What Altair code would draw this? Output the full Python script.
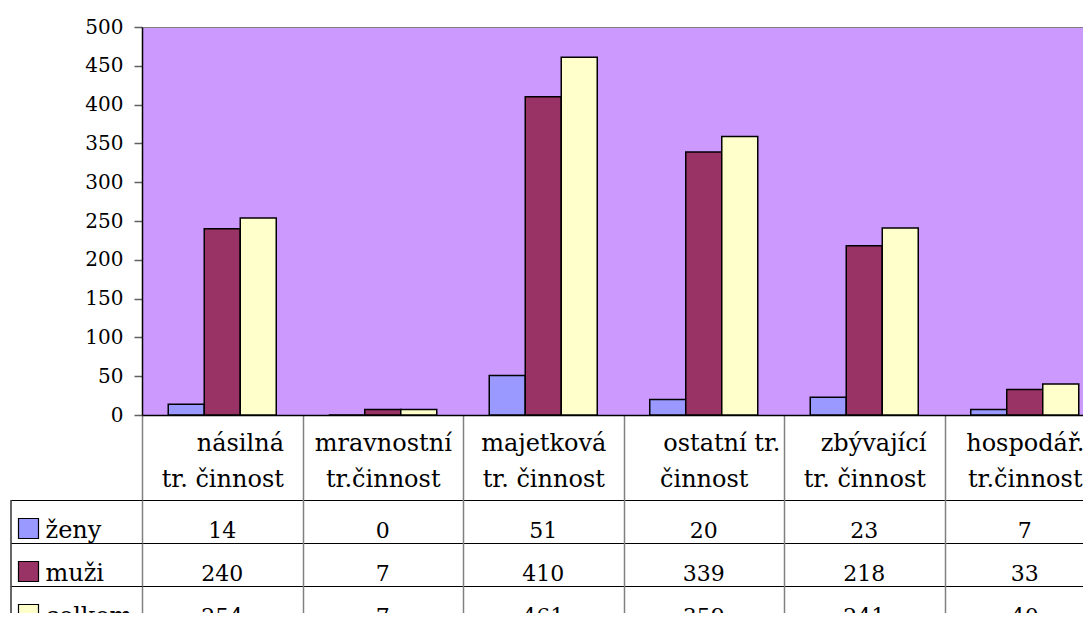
import altair as alt
import pandas as pd

# ---- data ----
# (U+2800 blank cells reproduce the leading indent of the original wrapped labels)
categories = [
    "\u2800\u2800násilná\ntr. činnost",
    "mravnostní\ntr.činnost",
    "majetková\ntr. činnost",
    "\u2800\u2800ostatní tr.\nčinnost",
    "\u2800zbývající\ntr. činnost",
    "hospodář.\ntr.činnost",
]
series = ["ženy", "muži", "celkem"]
zeny = [14, 0, 51, 20, 23, 7]
muzi = [240, 7, 410, 339, 218, 33]
celkem = [254, 7, 461, 359, 241, 40]
colors = ["#9999FF", "#993366", "#FFFFCC"]
y_ticks = [0, 50, 100, 150, 200, 250, 300, 350, 400, 450, 500]

rows = []
for s, vals in zip(series, [zeny, muzi, celkem]):
    for c, v in zip(categories, vals):
        rows.append({"category": c, "series": s, "value": v})
df = pd.DataFrame(rows)
legend_df = pd.DataFrame({"series": series})

FONT = "DejaVu Serif"

x_scale = alt.Scale(domain=categories, range=[0, 963], paddingInner=0, paddingOuter=0)

bars = alt.Chart(df).mark_bar(stroke="black", strokeWidth=1.5).encode(
    x=alt.X(
        "category:N",
        sort=categories,
        scale=x_scale,
        axis=alt.Axis(
            title=None,
            orient="bottom",
            domainColor="black",
            domainWidth=1.5,
            ticks=True,
            tickBand="extent",
            tickSize=240,
            tickColor="#808080",
            tickWidth=1.5,
            labelAngle=0,
            labelFont=FONT,
            labelFontSize=24,
            labelColor="black",
            labelBaseline="alphabetic",
            labelPadding=-205,
            labelLineHeight=36,
            labelExpr="split(datum.label, '\\n')",
        ),
    ),
    xOffset=alt.XOffset(
        "series:N",
        sort=series,
        scale=alt.Scale(domain=series, paddingInner=0, paddingOuter=0.729),
    ),
    y=alt.Y(
        "value:Q",
        stack=None,
        scale=alt.Scale(domain=[0, 500]),
        axis=alt.Axis(
            title=None,
            orient="left",
            values=y_ticks,
            grid=False,
            domainColor="black",
            domainWidth=1.5,
            tickSize=8,
            tickColor="#606060",
            tickWidth=1.5,
            labelFont=FONT,
            labelFontSize=20,
            labelColor="black",
            labelPadding=11,
        ),
    ),
    color=alt.Color("series:N", scale=alt.Scale(domain=series, range=colors), legend=None),
)

numbers = alt.Chart(df).mark_text(
    font=FONT, fontSize=22, color="black", baseline="alphabetic", dy=16
).encode(
    x=alt.X("category:N", sort=categories),
    y=alt.Y(
        "series:N",
        sort=series,
        scale=alt.Scale(domain=series, range=[473, 602], paddingInner=0, paddingOuter=0),
        axis=alt.Axis(
            title=None,
            orient="left",
            domain=False,
            ticks=True,
            tickBand="extent",
            tickSize=131,
            tickColor="black",
            tickWidth=1.2,
            grid=True,
            gridColor="black",
            gridOpacity=1,
            gridWidth=1.2,
            labelAlign="left",
            labelPadding=-34,
            labelBaseline="alphabetic",
            labelOffset=16,
            labelFont=FONT,
            labelFontSize=24,
            labelColor="black",
        ),
    ),
    text=alt.Text("value:Q"),
)

swatches = alt.Chart(legend_df).mark_point(
    shape="square", size=400, filled=True, stroke="black", strokeWidth=1.2,
    opacity=1, fillOpacity=1,
).encode(
    x=alt.value(-113.5),
    y=alt.Y(
        "series:N",
        sort=series,
        scale=alt.Scale(domain=series, range=[480, 609], paddingInner=0, paddingOuter=0),
        axis=None,
    ),
    fill=alt.Fill("series:N", scale=alt.Scale(domain=series, range=colors), legend=None),
)

border = alt.Chart(legend_df.head(1)).mark_rule(color="black", strokeWidth=1.2).encode(
    x=alt.value(-131), y=alt.value(473), y2=alt.value(660)
)

chart = (
    alt.layer(bars, numbers, swatches, border)
    .resolve_scale(y="independent")
    .properties(
        width=941,
        height=388,
        padding={"left": 134, "top": 19, "right": 0, "bottom": 198},
        autosize=alt.AutoSizeParams(type="none"),
        background="white",
    )
    .configure_view(fill="#CC99FF", stroke="#808080", strokeWidth=1)
)

chart.save("out.html", embed_options={"renderer": "svg", "actions": False})
